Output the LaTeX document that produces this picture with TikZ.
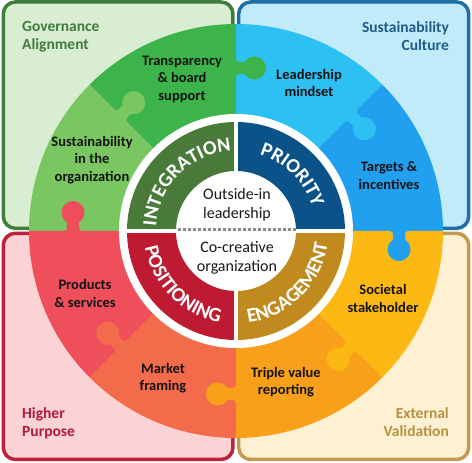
\documentclass[tikz,border=0pt]{standalone}
\usepackage{fontspec}
\setmainfont{Carlito}
\usetikzlibrary{decorations.text}
\definecolor{gFrame}{HTML}{3F7D3C}
\definecolor{gFill}{HTML}{D8EDD1}
\definecolor{bFrame}{HTML}{1D6FA5}
\definecolor{bFill}{HTML}{C2EBFA}
\definecolor{rFrame}{HTML}{C0213A}
\definecolor{rFill}{HTML}{FBD3D5}
\definecolor{yFrame}{HTML}{C39A4E}
\definecolor{yFill}{HTML}{FEF1D3}
\definecolor{gText}{HTML}{3F7D3C}
\definecolor{bText}{HTML}{1D5C8A}
\definecolor{rText}{HTML}{B4183A}
\definecolor{yText}{HTML}{B8913F}
\definecolor{cTrans}{HTML}{3CB44A}
\definecolor{cSorg}{HTML}{7AC661}
\definecolor{cLead}{HTML}{2DC0F2}
\definecolor{cTarg}{HTML}{20A0EE}
\definecolor{cSoc}{HTML}{FDB913}
\definecolor{cTrip}{HTML}{F9A01B}
\definecolor{cMark}{HTML}{F26B4A}
\definecolor{cProd}{HTML}{EF4F5A}
\definecolor{cInt}{HTML}{497A3A}
\definecolor{cPri}{HTML}{0B5289}
\definecolor{cPos}{HTML}{BE1B32}
\definecolor{cEng}{HTML}{C08A1F}
\newcommand\puzzleknob[2]{%
  \begin{scope}[rotate=#1]
    \fill[#2] (154,1) -- (154,0) arc[start angle=90,end angle=0,radius=3]
      -- (157,-8.7) arc[start angle=121.5,end angle=418.5,radius=11.5]
      -- (169,-3) arc[start angle=180,end angle=90,radius=3] -- (172,1) -- cycle;
  \end{scope}}
\newcommand\piewedge[3]{%
  \fill[#3] (0,0) -- (#1:207) arc[start angle=#1,end angle=#2,radius=207] -- cycle;}
\newcommand\ringseg[3]{%
  \fill[#3] (#1:109) arc[start angle=#1,end angle=#2,radius=109]
    -- (#2:60) arc[start angle=#2,end angle=#1,radius=60] -- cycle;}
\begin{document}
\begin{tikzpicture}[x=1pt,y=1pt,
  frame/.style={line width=3.5pt,rounded corners=12pt},
  piecelabel/.style={align=center,font=\bfseries\fontsize{14.5pt}{17.5pt}\selectfont,text=black!92,inner sep=0pt},
  cornerlabel/.style={font=\bfseries\fontsize{15.5pt}{18pt}\selectfont,inner sep=0pt},
  centerlabel/.style={align=center,font=\fontsize{16pt}{19pt}\selectfont,text=black!90,inner sep=0pt},
  ringtext/.style={decorate,decoration={text along path,text align=center,text color=white,
     text={|\bfseries\fontsize{20pt}{20pt}\selectfont|#1}}}]
\useasboundingbox (-236,-232) rectangle (236,231);
% quadrant frames
\draw[frame,draw=gFrame,fill=gFill] (-232.7,2.7) rectangle (-3,229);
\draw[frame,draw=bFrame,fill=bFill] (2.7,2.7) rectangle (232.7,229);
\draw[frame,draw=rFrame,fill=rFill] (-232.7,-2.3) rectangle (-3,-228.5);
\draw[frame,draw=yFrame,fill=yFill] (2.7,-2.3) rectangle (232.7,-228.5);
% corner labels
\node[cornerlabel,text=gText,anchor=west,align=left] (ga) at (-214,194.5) {Governance\\Alignment};
\node[cornerlabel,text=bText,anchor=east,align=right] (sc) at (213,194.5) {Sustainability\\Culture};
\node[cornerlabel,text=rText,anchor=west,align=left] (hp) at (-214,-192) {Higher\\Purpose};
\node[cornerlabel,text=yText,anchor=east,align=right] (ev) at (213,-191.5) {External\\Validation};
% puzzle pieces
\piewedge{90}{135}{cTrans}
\piewedge{135}{180}{cSorg}
\piewedge{45}{90}{cLead}
\piewedge{0}{45}{cTarg}
\piewedge{-45}{0}{cSoc}
\piewedge{-90}{-45}{cTrip}
\piewedge{-135}{-90}{cMark}
\piewedge{-180}{-135}{cProd}
\puzzleknob{0}{cTarg}
\puzzleknob{45}{cLead}
\puzzleknob{90}{cTrans}
\puzzleknob{135}{cSorg}
\puzzleknob{180}{cProd}
\puzzleknob{225}{cMark}
\puzzleknob{270}{cTrip}
\puzzleknob{315}{cSoc}
% inner ring
\fill[white] (0,0) circle[radius=117];
\ringseg{90}{180}{cInt}
\ringseg{0}{90}{cPri}
\ringseg{180}{270}{cPos}
\ringseg{270}{360}{cEng}
\draw[white,line width=4pt] (0,112) -- (0,-112);
\draw[white,line width=4pt] (-112,0) -- (112,0);
\draw[black!45,line width=3pt,dash pattern=on 3pt off 2pt] (-58,1) -- (62,1);
\path[ringtext=INTEGRATION] (180:80) arc[start angle=180,end angle=90,radius=80];
\path[ringtext=PRIORITY] (90:80) arc[start angle=90,end angle=0,radius=80];
\path[ringtext=POSITIONING] (180:92.5) arc[start angle=180,end angle=270,radius=92.5];
\path[ringtext=ENGAGEMENT] (270:92.5) arc[start angle=270,end angle=360,radius=92.5];
% center
\node[centerlabel] (oil) at (1,26.5) {Outside-in\\leadership};
\node[centerlabel] (cco) at (1,-26.5) {Co-creative\\organization};
% piece labels
\node[piecelabel] (tbs) at (-54,152) {Transparency\\\& board\\support};
\node[piecelabel] (sio) at (-144,71) {Sustainability\\in the\\organization};
\node[piecelabel] (lm) at (73,148) {Leadership\\mindset};
\node[piecelabel] (ti) at (153,55.5) {Targets \&\\incentives};
\node[piecelabel] (ss) at (147,-67.5) {Societal\\stakeholder};
\node[piecelabel] (tvr) at (50,-151) {Triple value\\reporting};
\node[piecelabel] (mf) at (-73,-147) {Market\\framing};
\node[piecelabel] (ps) at (-151,-62.5) {Products\\\& services};
\end{tikzpicture}
\end{document}
